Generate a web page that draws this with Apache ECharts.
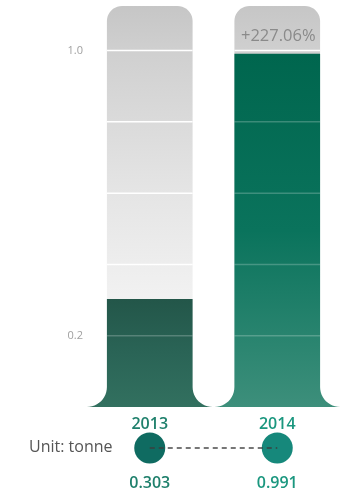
<!DOCTYPE html>
<html>
<head>
<meta charset="utf-8">
<style>
  html, body { margin: 0; padding: 0; background: #ffffff; }
  #chart { width: 341px; height: 503px; }
</style>
<script src="https://cdn.jsdelivr.net/npm/echarts@6/dist/echarts.min.js"></script>
</head>
<body>
<div id="chart"></div>
<script>
// Annual amounts, in tonnes
const years = ['2013', '2014'];
const amounts = [0.303, 0.991];
const changeLabels = ['', '+227.06%'];
// Lines drawn across each column, and the axis values that get a label
const gridValues = [0.2, 0.4, 0.6, 0.8, 1.0];
const yTickLabels = ['0.2', '1.0'];
const yearColors = ['#1f806c', '#1b977f'];
const dotColors = ['#0f6b61', '#16887b'];
const barGradients = [
  [['#235649', 0], ['#2a6456', 0.5], ['#32705f', 1]],
  [['#00664e', 0], ['#0a735c', 0.5], ['#3d8f7b', 1]]
];

const FONT = '"Open Sans", "Noto Sans", sans-serif';
const chart = echarts.init(document.getElementById('chart'), null, { renderer: 'canvas' });

function arcPoints(cx, cy, r, fromDeg, toDeg, n) {
  const pts = [];
  for (let k = 0; k <= n; k++) {
    const t = (fromDeg + (toDeg - fromDeg) * k / n) * Math.PI / 180;
    pts.push([cx + r * Math.cos(t), cy + r * Math.sin(t)]);
  }
  return pts;
}

function gradient(stops) {
  return new echarts.graphic.LinearGradient(0, 0, 0, 1,
    stops.map(s => ({ offset: s[1], color: s[0] })));
}

// Column with a rounded cap and a flared foot
function renderColumn(params, api) {
  const idx = api.value(0);
  const v = api.value(1);
  const base = api.coord([idx, 0]);
  const cx = base[0], y0 = base[1];
  const band = api.size([1, 0])[0];
  const half = band * 0.336;
  const yTop = params.coordSys.y;
  const yv = api.coord([idx, v])[1];
  const rf = 20;  // foot flare radius
  const rc = 15;  // cap corner radius

  const footLeft = arcPoints(cx - half - rf, y0 - rf, rf, 90, 0, 12);
  const footRight = arcPoints(cx + half + rf, y0 - rf, rf, 180, 90, 12);

  const shell = [].concat(
    footLeft,
    arcPoints(cx - half + rc, yTop + rc, rc, 180, 270, 10),
    arcPoints(cx + half - rc, yTop + rc, rc, 270, 360, 10),
    footRight
  );
  const fill = [].concat(
    footLeft,
    [[cx - half, yv], [cx + half, yv]],
    footRight
  );

  const children = [
    {
      type: 'polygon',
      shape: { points: shell },
      style: {
        fill: gradient([['#c6c6c6', 0], ['#d0d0d0', 0.12], ['#e4e4e4', 0.45], ['#f1f1f1', 0.72], ['#f5f5f5', 1]])
      }
    },
    {
      type: 'polygon',
      shape: { points: fill },
      style: { fill: gradient(barGradients[idx]) }
    }
  ];

  gridValues.forEach(g => {
    const gy = api.coord([idx, g])[1];
    children.push({
      type: 'line',
      shape: { x1: cx - half, y1: gy, x2: cx + half, y2: gy },
      style: {
        stroke: g > v ? '#ffffff' : 'rgba(255,255,255,0.22)',
        lineWidth: 1.5
      }
    });
  });

  if (changeLabels[idx]) {
    children.push({
      type: 'text',
      x: cx + 1,
      y: yTop + 30,
      style: {
        text: changeLabels[idx],
        fill: '#8a8a8a',
        font: '16.5px ' + FONT,
        align: 'center',
        verticalAlign: 'middle'
      }
    });
  }

  return { type: 'group', children: children };
}

chart.setOption({
  animation: false,
  backgroundColor: '#ffffff',
  grid: [
    { left: 86, width: 256, top: 6, height: 401 },
    { left: 86, width: 256, top: 433, height: 30 }
  ],
  xAxis: [
    {
      gridIndex: 0,
      type: 'category',
      data: years.map((y, i) => ({ value: y, textStyle: { color: yearColors[i] } })),
      axisLine: { show: false },
      axisTick: { show: false },
      splitLine: { show: false },
      axisLabel: {
        margin: 9,
        fontSize: 16,
        fontWeight: 600,
        fontFamily: FONT
      }
    },
    {
      gridIndex: 1,
      type: 'category',
      data: years,
      show: false
    }
  ],
  yAxis: [
    {
      gridIndex: 0,
      type: 'value',
      min: 0,
      max: 1.125,
      interval: 0.2,
      axisLine: { show: false },
      axisTick: { show: false },
      splitLine: { show: false },
      axisLabel: {
        margin: 3,
        fontSize: 11,
        color: '#a0a0a0',
        fontFamily: FONT,
        formatter: val => {
          const s = val.toFixed(1);
          return yTickLabels.includes(s) ? s : '';
        }
      }
    },
    {
      gridIndex: 1,
      type: 'category',
      data: ['tonne'],
      show: false
    }
  ],
  graphic: [
    {
      type: 'text',
      left: 29,
      top: 439,
      style: { text: 'Unit: tonne', fill: '#555555', font: '16px ' + FONT }
    }
  ],
  series: [
    {
      type: 'custom',
      xAxisIndex: 0,
      yAxisIndex: 0,
      renderItem: renderColumn,
      encode: { x: 0, y: 1 },
      clip: false,
      data: amounts.map((v, i) => [i, v])
    },
    {
      type: 'scatter',
      xAxisIndex: 1,
      yAxisIndex: 1,
      symbolSize: 31,
      z: 2,
      itemStyle: { opacity: 1 },
      data: years.map((y, i) => ({
        value: [y, 'tonne'],
        itemStyle: { color: dotColors[i], opacity: 1 },
        label: { color: yearColors[i] }
      })),
      label: {
        show: true,
        position: 'bottom',
        distance: 12,
        fontSize: 16,
        fontWeight: 600,
        fontFamily: FONT,
        formatter: p => String(amounts[p.dataIndex])
      }
    },
    {
      type: 'line',
      xAxisIndex: 1,
      yAxisIndex: 1,
      z: 5,
      symbol: 'none',
      silent: true,
      lineStyle: { type: [5, 4], color: 'rgba(60,60,60,0.7)', width: 2 },
      data: years.map(y => [y, 'tonne'])
    }
  ]
});
</script>
</body>
</html>
